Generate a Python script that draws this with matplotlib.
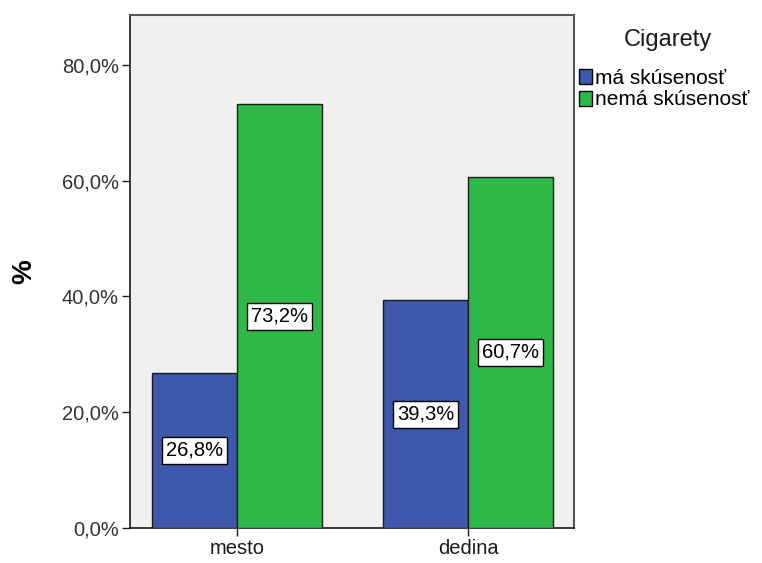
import numpy as np
import matplotlib.pyplot as plt
from matplotlib.patches import Patch

# hodnoty odčítané z grafu
kategorie = ['mesto', 'dedina']
ma_skusenost = [26.8, 39.3]
nema_skusenost = [73.2, 60.7]
legenda = ['má skúsenosť', 'nemá skúsenosť']
farby = ['#3e58ac', '#2eb848']

plt.rcParams['font.family'] = ['Liberation Sans', 'DejaVu Sans']


def popis(ax, xs, vals):
    for x, v in zip(xs, vals):
        ax.text(x, v / 2, f'{v:.1f}%'.replace('.', ','), ha='center', va='center',
                fontsize=14.5, zorder=5,
                bbox=dict(boxstyle='square,pad=0.2', fc='white', ec='black', lw=1))


fig = plt.figure(figsize=(7.62, 5.63), dpi=100)
ax = fig.add_axes([0.1706, 0.0622, 0.5827, 0.9112])
ax.set_facecolor('#f0f0f0')

x = np.arange(len(kategorie))
w = 0.368
ax.bar(x - w / 2, ma_skusenost, w, color=farby[0], edgecolor='#1a1a1a', lw=1, zorder=3)
ax.bar(x + w / 2, nema_skusenost, w, color=farby[1], edgecolor='#1a1a1a', lw=1, zorder=3)
popis(ax, x - w / 2, ma_skusenost)
popis(ax, x + w / 2, nema_skusenost)

ax.set_xlim(-0.463, 1.459)
ax.set_ylim(0, 88.6)
ax.set_yticks([0, 20, 40, 60, 80])
ax.set_yticklabels([f'{t:.1f}%'.replace('.', ',') for t in [0, 20, 40, 60, 80]])
ax.set_xticks(x)
ax.set_xticklabels(kategorie)
ax.tick_params(axis='both', labelsize=14.5, colors='#1a1a1a', length=6, width=1,
               direction='out', pad=2)
ax.tick_params(axis='y', labelcolor='#333333')
ax.tick_params(axis='x', labelcolor='#1a1a1a')

for s in ['left', 'bottom']:
    ax.spines[s].set_color('#1a1a1a')
    ax.spines[s].set_linewidth(1.2)
for s in ['top', 'right']:
    ax.spines[s].set_color('#555555')
    ax.spines[s].set_linewidth(1.5)

fig.text(0.032, 0.517, '%', rotation=90, ha='center', va='center', fontsize=20, fontweight='bold')

# legenda: nadpis zvlášť, aby sedela medzera
fig.text(0.877, 0.929, 'Cigarety', ha='center', va='center', fontsize=17, color='#1a1a1a')
handles = [Patch(facecolor=c, edgecolor='black', lw=1) for c in farby]
leg = fig.legend(handles, legenda, loc='upper left',
                 bbox_to_anchor=(0.755, 0.885), frameon=False, fontsize=15,
                 handlelength=0.6, handleheight=0.75,
                 handletextpad=0.15, labelspacing=0.12, borderpad=0.2, borderaxespad=0)

plt.savefig('out.png', dpi=100)
